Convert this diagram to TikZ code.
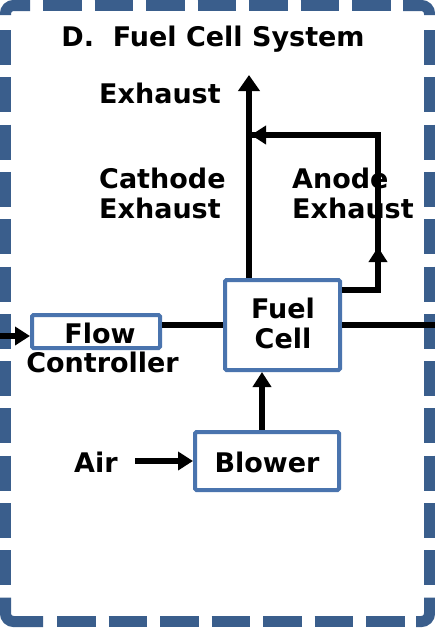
\documentclass[tikz,border=0pt]{standalone}
\usepackage{fontspec}
\setmainfont{DejaVu Sans}
\usetikzlibrary{arrows.meta}
\definecolor{outerblue}{HTML}{3A5E8C}
\definecolor{boxblue}{HTML}{4A74AE}
\begin{document}
\begin{tikzpicture}[x=1pt,y=-1pt,
  box/.style={draw=boxblue,line width=4pt,fill=white,rounded corners=1.5pt,inner sep=0pt},
  lbl/.style={font=\fontsize{27}{30}\selectfont\bfseries,inner sep=0pt},
  flowline/.style={line width=5.5pt},
  tip/.style={-{Triangle[length=15pt,width=18pt]}},
  bigtip/.style={-{Triangle[length=16pt,width=21pt]}},
  border/.style={draw=outerblue,line width=11pt,line cap=butt},
  hdash/.style={border,dash pattern=on 38.5pt off 13pt},
  vdash/.style={border,dash pattern=on 35pt off 12.3pt}
]
\useasboundingbox (0,0) rectangle (435,637);
\fill[white] (0,0) rectangle (435,637);
% outer dashed border: corner pieces
\draw[border,rounded corners=8pt] (5.5,15) -- (5.5,5.5) -- (30,5.5);
\draw[border,rounded corners=8pt] (403,5.5) -- (429.5,5.5) -- (429.5,15);
\draw[border,rounded corners=8pt] (5.5,597.6) -- (5.5,621.5) -- (43,621.5);
\draw[border,rounded corners=8pt] (416,621.5) -- (429.5,621.5) -- (429.5,597.6);
% outer dashed border: sides
\draw[hdash] (43,5.5) -- (391,5.5);
\draw[hdash] (57,621.5) -- (405,621.5);
\draw[vdash] (5.5,30) -- (5.5,586);
\draw[vdash] (429.5,30) -- (429.5,586);
% title
\node[lbl,anchor=base] (title) at (213,46) {D.\ \ Fuel Cell System};
% labels
\node[lbl,anchor=base west] (exh) at (99,103) {Exhaust};
\node[lbl,anchor=base west,align=left] (cath) at (99,218) {Cathode\\Exhaust};
\node[lbl,anchor=base west,align=left] (anod) at (292,218) {Anode\\Exhaust};
% boxes
\node[box,minimum width=115pt,minimum height=90pt] (fc) at (282.5,325) {};
\node[lbl,align=center,anchor=base] (fctext) at (283,348) {Fuel\\Cell};
\node[box,minimum width=128pt,minimum height=33pt] (flow) at (96,331.5) {};
\node[lbl,anchor=base] (flowtext) at (100,343) {Flow};
\node[lbl,anchor=base] (ctrl) at (102.5,372) {Controller};
\node[box,minimum width=144pt,minimum height=58pt] (blower) at (267,461) {};
\node[lbl,anchor=base] (blowtext) at (267,472) {Blower};
\node[lbl,anchor=base west] (air) at (74,472) {Air};
% coordinates
\coordinate (exT) at (249,75);
\coordinate (a1) at (378,290);
\coordinate (a2) at (378,135);
\coordinate (a3) at (251,135);
\coordinate (amid) at (378,247);
\coordinate (rightEnd) at (435,325);
\coordinate (inL) at (0,336);
\coordinate (airS) at (135,461);
\coordinate (bx) at (262,430);
% connectors
\draw[flowline,bigtip] (fc.north -| exT) -- (exT);
\draw[flowline,line join=miter] (fc.east |- a1) -- (a1) -- (a2) -- (a3);
\draw[flowline,tip] (a2) -- (a3);
\draw[flowline,tip] (a1) -- (amid);
\draw[flowline] (flow.east |- fc.west) -- (fc.west);
\draw[flowline] (fc.east) -- (rightEnd);
\draw[flowline,tip] (inL) -- (flow.west |- inL);
\draw[flowline,tip] (bx) -- (bx |- fc.south);
\draw[flowline,tip] (airS) -- (blower.west |- airS);
\end{tikzpicture}
\end{document}
